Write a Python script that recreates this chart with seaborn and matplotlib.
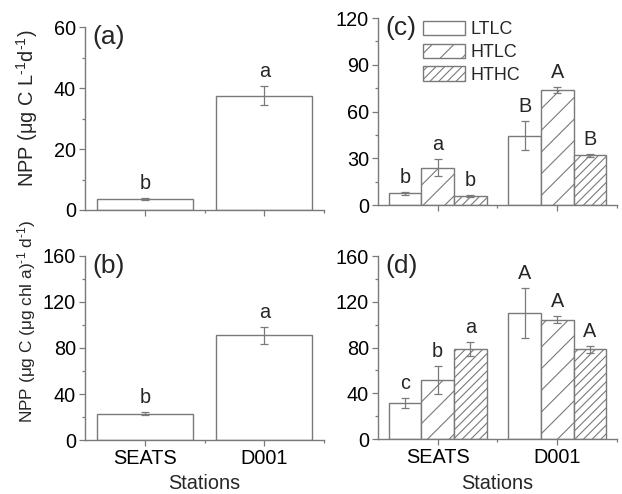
import numpy as np
import pandas as pd
import matplotlib
matplotlib.use('Agg')
import matplotlib.pyplot as plt
import seaborn as sns
from matplotlib.ticker import MultipleLocator, FixedLocator

# 데이터
stations = ['SEATS', 'D001']
treatments = ['LTLC', 'HTLC', 'HTHC']

# (a) NPP per volume, in situ
npp_vol = [3.5, 37.5]
npp_vol_err = [0.3, 3.2]
npp_vol_sig = ['b', 'a']

# (b) NPP per chl a, in situ
npp_chl = [23.0, 91.0]
npp_chl_err = [1.0, 7.5]
npp_chl_sig = ['b', 'a']

# (c) NPP per volume, incubations
exp_vol_seats = [7.5, 24.0, 5.8]
exp_vol_d001 = [44.6, 74.0, 32.0]
exp_vol_err_seats = [1.0, 5.4, 0.5]
exp_vol_err_d001 = [9.0, 2.0, 1.0]
exp_vol_sig_seats = ['b', 'a', 'b']
exp_vol_sig_d001 = ['B', 'A', 'B']

# (d) NPP per chl a, incubations
exp_chl_seats = [31.5, 51.5, 79.0]
exp_chl_d001 = [110.0, 104.5, 78.5]
exp_chl_err_seats = [4.0, 12.0, 6.0]
exp_chl_err_d001 = [22.0, 3.0, 3.0]
exp_chl_sig_seats = ['c', 'b', 'a']
exp_chl_sig_d001 = ['A', 'A', 'A']

hatches = ['', '//', '/////']

# hatch spacing scales with dpi, so render at 130 dpi and scale point sizes
DPI = 130
S = 100 / DPI


def pt(v):
    return v * S


GRAY = '#7a7a7a'
FS = 14.3
sns.set_style('ticks')
plt.rcParams['font.family'] = ['Liberation Sans', 'DejaVu Sans']
plt.rcParams['mathtext.fontset'] = 'custom'
plt.rcParams['mathtext.rm'] = 'Liberation Sans'
plt.rcParams['mathtext.default'] = 'regular'
plt.rcParams['hatch.color'] = GRAY
plt.rcParams['hatch.linewidth'] = pt(0.8)
plt.rcParams['axes.edgecolor'] = GRAY
plt.rcParams['xtick.color'] = GRAY
plt.rcParams['ytick.color'] = GRAY
plt.rcParams['xtick.labelcolor'] = 'black'
plt.rcParams['ytick.labelcolor'] = 'black'

fig = plt.figure(figsize=(622 / DPI, 494 / DPI), dpi=DPI)
ax_a = fig.add_axes([0.1367, 0.5749, 0.3842, 0.3704])
ax_b = fig.add_axes([0.1367, 0.1093, 0.3842, 0.3725])
ax_c = fig.add_axes([0.6077, 0.5850, 0.3842, 0.3785])
ax_d = fig.add_axes([0.6077, 0.1113, 0.3842, 0.3704])


def long_df(seats, d001, err_s, err_d, sig_s, sig_d):
    rows = []
    for i, t in enumerate(treatments):
        rows.append({'station': 'SEATS', 'treat': t, 'npp': seats[i], 'err': err_s[i], 'sig': sig_s[i]})
        rows.append({'station': 'D001', 'treat': t, 'npp': d001[i], 'err': err_d[i], 'sig': sig_d[i]})
    return pd.DataFrame(rows)


def add_err_and_letters(ax, bars, errs, sigs):
    for p, e, s in zip(bars, errs, sigs):
        xc = p.get_x() + p.get_width() / 2
        h = p.get_height()
        ax.errorbar(xc, h, yerr=e, color=GRAY, capsize=pt(3), elinewidth=pt(0.9),
                    capthick=pt(0.9), zorder=5)
        ax.annotate(s, (xc, h + e), xytext=(0, pt(6.5)), textcoords='offset points',
                    ha='center', va='baseline', fontsize=pt(FS))


def style_axis(ax, ymax, ystep, label, label_fs, label_y, letter, xlab_y):
    ax.set_xlim(-0.5, 1.5)
    ax.set_ylim(0, ymax)
    ax.yaxis.set_major_locator(MultipleLocator(ystep))
    ax.yaxis.set_minor_locator(MultipleLocator(ystep / 2))
    ax.xaxis.set_minor_locator(FixedLocator([0.5, 1.5]))
    ax.tick_params(axis='both', which='major', direction='out', length=pt(4), width=pt(0.9),
                   labelsize=pt(FS), pad=pt(2.5))
    ax.tick_params(axis='both', which='minor', direction='out', length=pt(2.5), width=pt(0.9))
    sns.despine(ax=ax)
    for sp in ax.spines.values():
        sp.set_linewidth(pt(1.0))
    if xlab_y is not None:
        ax.set_xlabel('Stations', fontsize=pt(FS), va='baseline')
        ax.xaxis.set_label_coords(0.5, xlab_y)
    else:
        ax.set_xticklabels([])
        ax.set_xlabel('')
    if label:
        ax.set_ylabel(label, fontsize=pt(label_fs), va='center')
        ax.yaxis.set_label_coords(-0.243, label_y)
    else:
        ax.set_ylabel('')
    ax.text(0.03, 1.01, letter, transform=ax.transAxes, ha='left', va='top', fontsize=pt(19))


# (a)
sns.barplot(x=stations, y=npp_vol, color='white', edgecolor=GRAY, linewidth=pt(1.0),
            errorbar=None, width=0.8, ax=ax_a, saturation=1)
add_err_and_letters(ax_a, ax_a.patches, npp_vol_err, npp_vol_sig)
style_axis(ax_a, 60, 20, 'NPP (μg C L$^{‐1}$d$^{‐1}$)', 14.4, 0.557, '(a)', None)

# (b)
sns.barplot(x=stations, y=npp_chl, color='white', edgecolor=GRAY, linewidth=pt(1.0),
            errorbar=None, width=0.8, ax=ax_b, saturation=1)
add_err_and_letters(ax_b, ax_b.patches, npp_chl_err, npp_chl_sig)
style_axis(ax_b, 160, 40, 'NPP (μg C (μg chl a)$^{‐1}$ d$^{‐1}$)', 12.4, 0.645, '(b)', -0.264)

# (c) & (d)
for ax, df, ymax, step, letter, xlab_y in [
    (ax_c, long_df(exp_vol_seats, exp_vol_d001, exp_vol_err_seats, exp_vol_err_d001,
                   exp_vol_sig_seats, exp_vol_sig_d001), 120, 30, '(c)', None),
    (ax_d, long_df(exp_chl_seats, exp_chl_d001, exp_chl_err_seats, exp_chl_err_d001,
                   exp_chl_sig_seats, exp_chl_sig_d001), 160, 40, '(d)', -0.271),
]:
    sns.barplot(data=df, x='station', y='npp', hue='treat', order=stations, hue_order=treatments,
                palette=['white'] * 3, edgecolor=GRAY, linewidth=pt(1.0), errorbar=None,
                width=0.82, ax=ax, saturation=1)
    for cont, hat, t in zip(ax.containers, hatches, treatments):
        sub = df[df['treat'] == t].set_index('station').loc[stations]
        for p in cont.patches:
            p.set_hatch(hat)
        add_err_and_letters(ax, cont.patches, sub['err'].tolist(), sub['sig'].tolist())
    if ax.get_legend() is not None:
        ax.get_legend().remove()
    style_axis(ax, ymax, step, None, FS, 0.5, letter, xlab_y)

ax_c.legend(ax_c.containers, treatments, loc='upper left', bbox_to_anchor=(0.19, 0.985),
            frameon=False, fontsize=pt(12.9), borderpad=0, borderaxespad=0,
            labelspacing=0.3, handlelength=2.3, handleheight=0.85, handletextpad=0.35)

fig.savefig('out.png', dpi=DPI)
